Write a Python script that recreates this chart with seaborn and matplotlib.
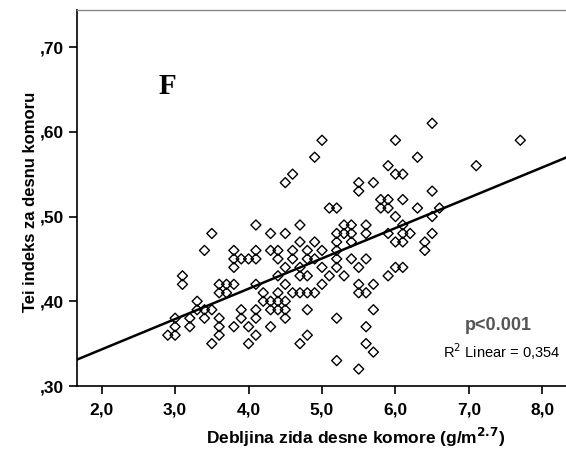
import matplotlib
matplotlib.use("Agg")
import matplotlib.pyplot as plt
import seaborn as sns
import numpy as np
import pandas as pd

# ---- data ----
rows_y = [0.61, 0.59, 0.57, 0.56, 0.55, 0.54, 0.53, 0.52, 0.51, 0.50,
          0.49, 0.48, 0.47, 0.46, 0.45, 0.44, 0.43, 0.42, 0.41, 0.40,
          0.39, 0.38, 0.37, 0.36, 0.35, 0.34, 0.33, 0.32]
rows_x = [
    [6.5],
    [5.0, 6.0, 7.7],
    [4.9, 6.3],
    [7.1, 5.9],
    [4.6, 6.0, 6.1],
    [4.5, 5.5, 5.7],
    [5.5, 6.5],
    [5.8, 5.9, 6.1],
    [5.1, 5.2, 5.8, 5.9, 6.3, 6.6],
    [6.0, 6.5],
    [4.1, 4.7, 5.3, 5.4, 5.6, 6.1],
    [3.5, 4.3, 4.5, 5.2, 5.3, 5.4, 5.6, 5.9, 6.1, 6.2, 6.5],
    [4.7, 4.9, 5.2, 5.4, 6.0, 6.1, 6.4],
    [3.4, 3.8, 4.1, 4.3, 4.4, 4.6, 4.8, 5.0, 5.2, 6.4],
    [3.8, 3.9, 4.0, 4.1, 4.4, 4.6, 4.8, 4.9, 5.2, 5.4, 5.6],
    [3.8, 4.5, 4.7, 5.0, 5.2, 5.5, 6.0, 6.1],
    [3.1, 4.4, 4.7, 4.8, 5.1, 5.3, 5.9],
    [3.1, 3.6, 3.7, 3.8, 4.1, 4.5, 5.0, 5.5, 5.7],
    [3.6, 3.7, 4.2, 4.4, 4.6, 4.7, 4.8, 4.9, 5.5, 5.6],
    [3.3, 4.2, 4.3, 4.4, 4.5],
    [3.3, 3.4, 3.5, 3.9, 4.1, 4.3, 4.4, 4.5, 4.8, 5.7],
    [3.0, 3.2, 3.4, 3.6, 3.9, 4.1, 4.5, 5.2],
    [3.0, 3.2, 3.6, 3.8, 4.0, 4.3, 5.6],
    [2.9, 3.0, 3.6, 4.1, 4.8],
    [3.5, 4.0, 4.7, 5.6],
    [5.7],
    [5.2],
    [5.5],
]
fit_intercept = 0.2716
fit_slope = 0.0358
x_ticks = [2.0, 3.0, 4.0, 5.0, 6.0, 7.0, 8.0]
x_tick_labels = ["2,0", "3,0", "4,0", "5,0", "6,0", "7,0", "8,0"]
y_ticks = [0.30, 0.40, 0.50, 0.60, 0.70]
y_tick_labels = [",30", ",40", ",50", ",60", ",70"]

xs, ys = [], []
for yv, xl in zip(rows_y, rows_x):
    for xv in xl:
        xs.append(xv)
        ys.append(yv)
df = pd.DataFrame({"x": xs, "y": ys})

sns.set_style("white")
plt.rcParams["font.family"] = ["Liberation Sans", "DejaVu Sans"]
plt.rcParams["text.color"] = "black"
plt.rcParams["axes.labelcolor"] = "black"
plt.rcParams["xtick.color"] = "black"
plt.rcParams["ytick.color"] = "black"

fig = plt.figure(figsize=(5.66, 4.51), dpi=100)
ax = fig.add_axes([0.1355, 0.1441, 0.8645 + 0.001, 0.9778 - 0.1441])

xmin, xmax = 1.66, 8.33
sns.scatterplot(data=df, x="x", y="y", marker="D", s=26, facecolor="none",
                edgecolor="black", linewidth=1.0, ax=ax, zorder=2)

line_x = np.array([xmin, xmax])
line_df = pd.DataFrame({"x": line_x, "y": fit_intercept + fit_slope * line_x})
sns.lineplot(data=line_df, x="x", y="y", color="black", linewidth=1.8, ax=ax, zorder=3)

ax.set_xlim(xmin, xmax)
ax.set_ylim(0.30, 0.7437)
ax.set_xticks(x_ticks)
ax.set_xticklabels(x_tick_labels, fontsize=12.5, fontweight="bold", color="black")
ax.set_yticks(y_ticks)
ax.set_yticklabels(y_tick_labels, fontsize=12.5, fontweight="bold", color="black")
ax.tick_params(axis="both", direction="out", length=6, width=1.2, color="black",
               bottom=True, left=True)
ax.tick_params(axis="x", pad=6)
ax.tick_params(axis="y", pad=3)

ax.set_xlabel("Debljina zida desne komore (g/m$^{\\mathbf{2.7}}$)", fontsize=12.5,
              fontweight="bold", color="black")
ax.xaxis.set_label_coords(0.569, -0.105)
ax.set_ylabel("Tei indeks za desnu komoru", fontsize=12, fontweight="bold",
              color="black")
ax.yaxis.set_label_coords(-0.080, 0.49)

for side in ["left", "bottom"]:
    ax.spines[side].set_color("black")
    ax.spines[side].set_linewidth(1.2)
ax.spines["top"].set_color("#888888")
ax.spines["top"].set_linewidth(1.0)
ax.spines["right"].set_visible(False)

ax.text(2.90, 0.653, "F", fontsize=21, fontweight="bold", color="black",
        family=["Liberation Serif", "DejaVu Serif"], ha="center", va="center")
ax.text(7.40, 0.371, "p<0.001", fontsize=13, fontweight="bold", color="#555555",
        ha="center", va="center")
ax.text(7.45, 0.340, "R$^2$ Linear = 0,354", fontsize=10.5, color="black",
        ha="center", va="center")

fig.savefig("out.png", dpi=100)
